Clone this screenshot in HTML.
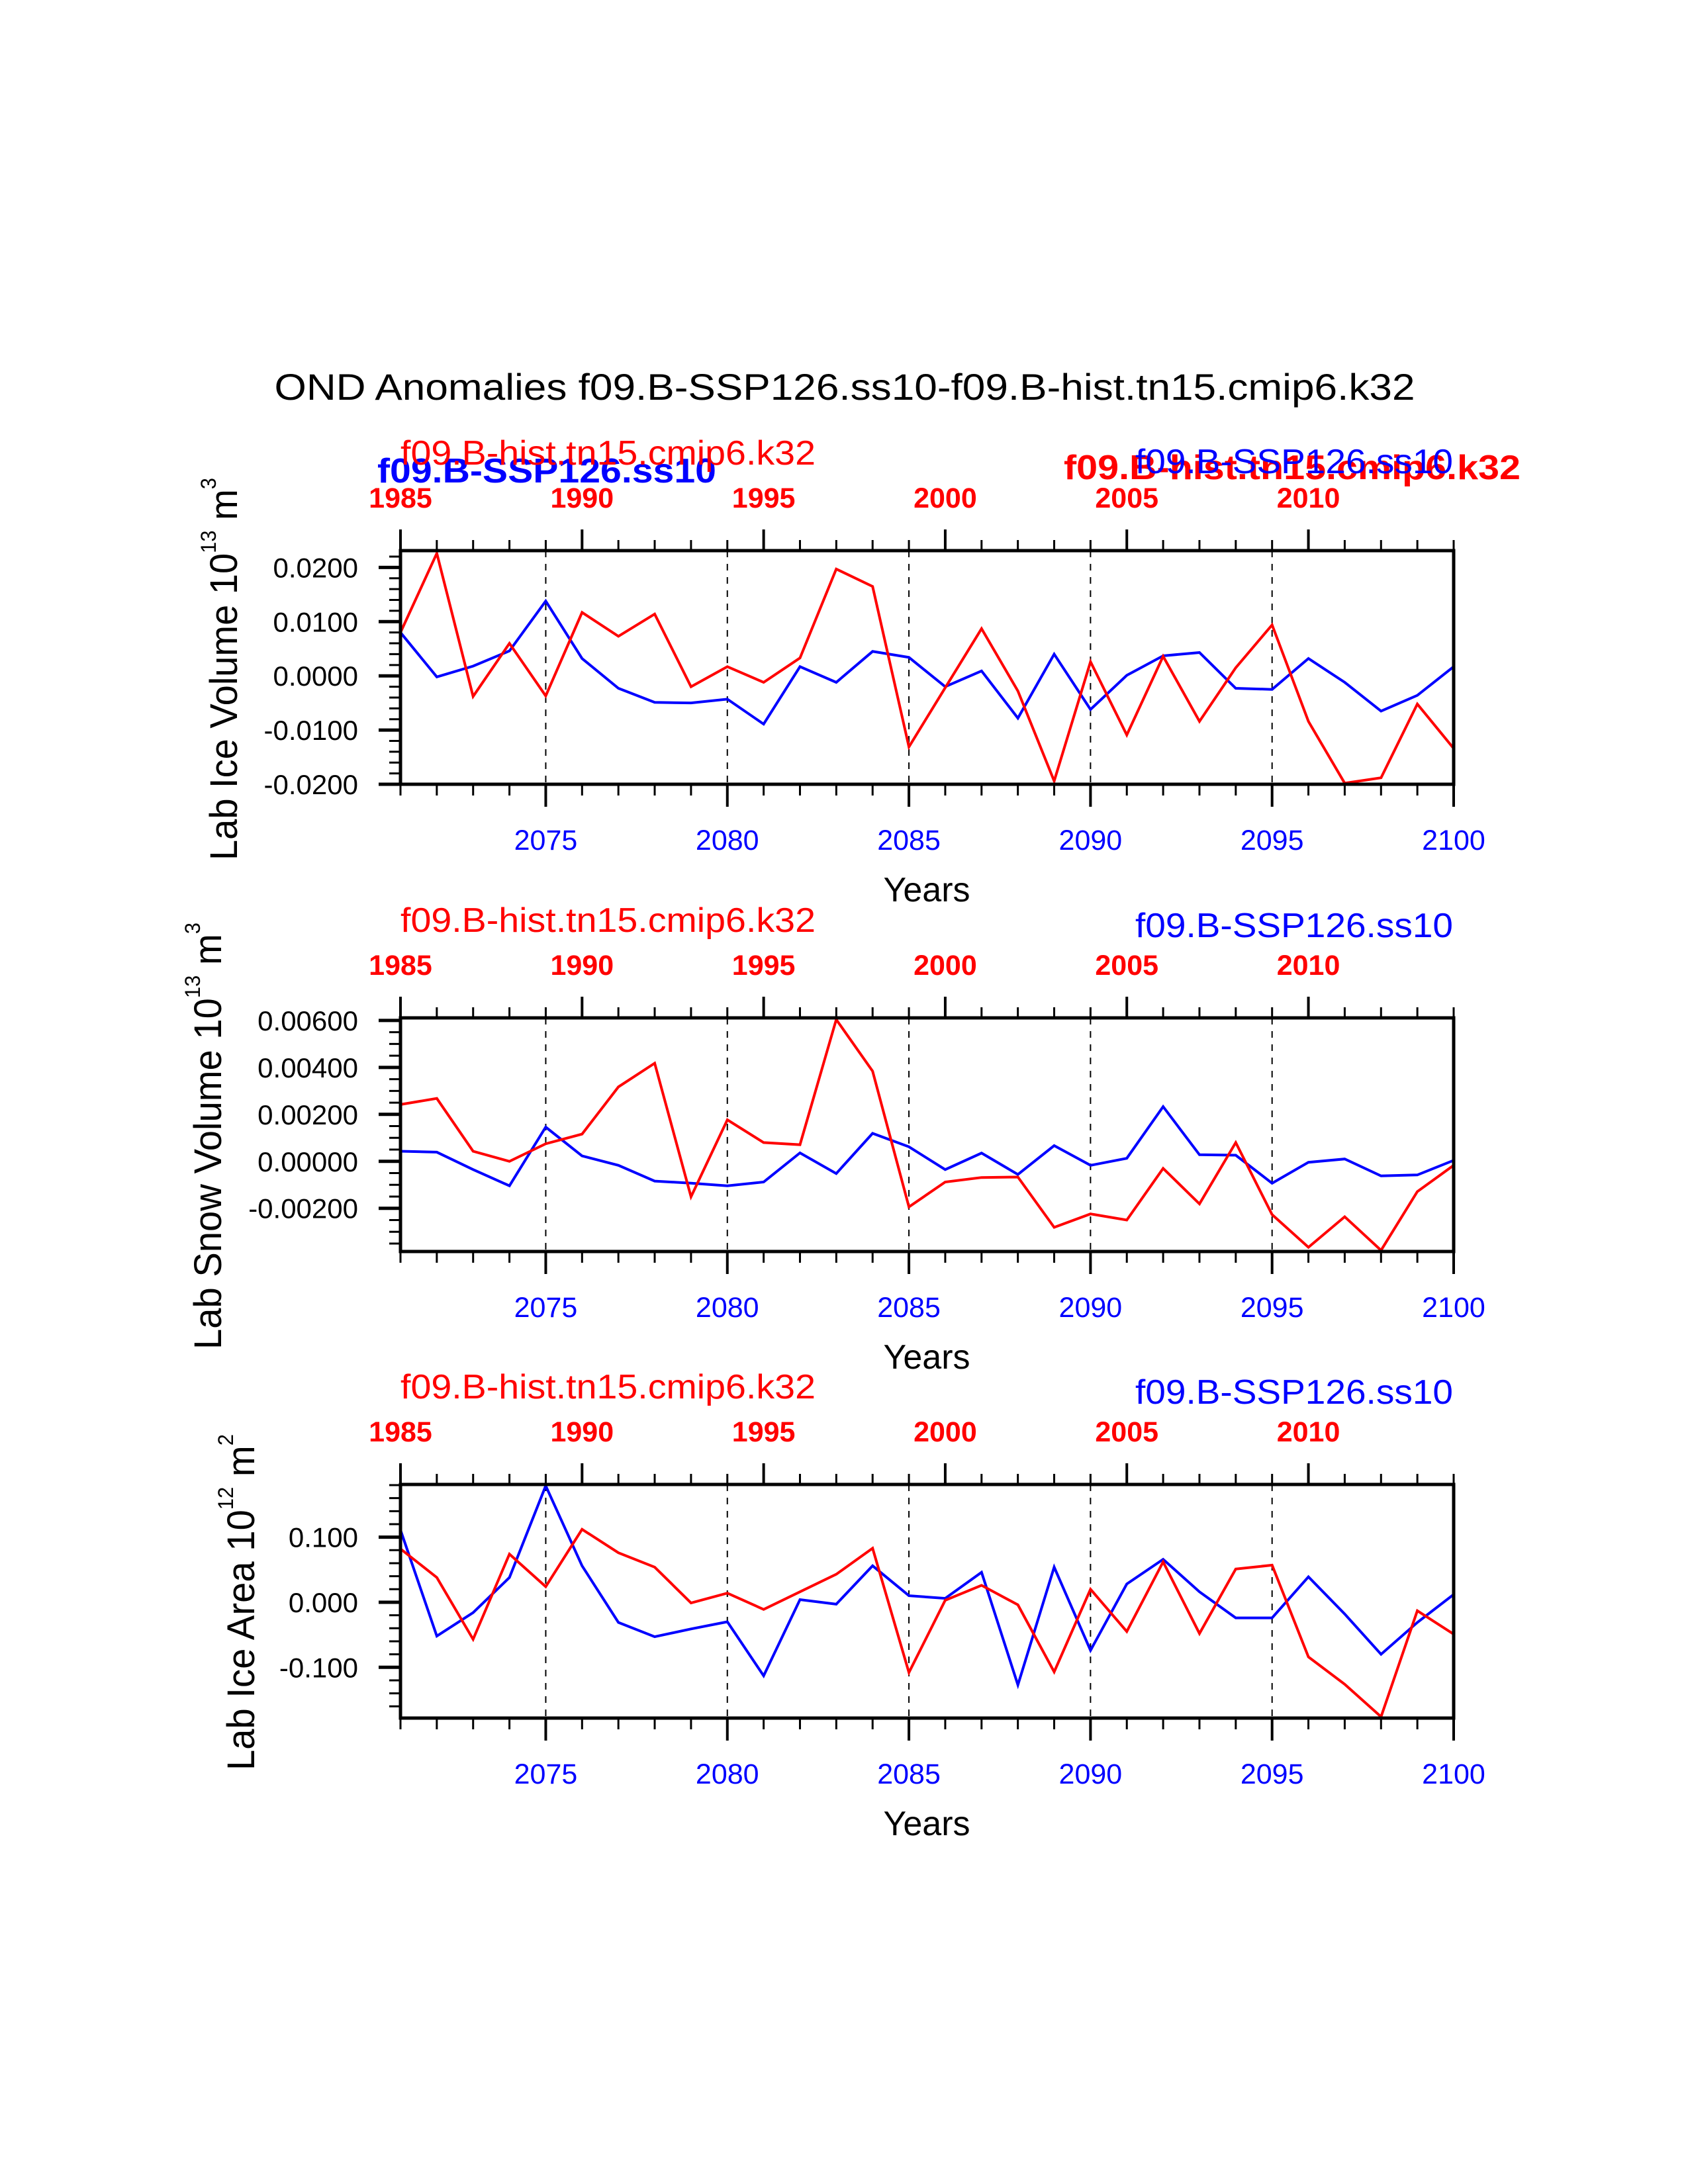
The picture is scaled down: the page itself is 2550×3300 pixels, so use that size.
<!DOCTYPE html>
<html><head><meta charset="utf-8"><style>html,body{margin:0;padding:0;background:#fff}svg{display:block}</style></head>
<body>
<svg id="chart" xmlns="http://www.w3.org/2000/svg" width="2550" height="3300" viewBox="0 0 2550 3300" font-family="Liberation Sans, sans-serif">
<rect width="2550" height="3300" fill="#fff"/>
<text x="1276" y="604" font-size="56" text-anchor="middle" textLength="1723" lengthAdjust="spacingAndGlyphs">OND Anomalies f09.B-SSP126.ss10-f09.B-hist.tn15.cmip6.k32</text>
<text x="1607" y="724" font-size="52" font-weight="bold" fill="#f00" textLength="690" lengthAdjust="spacingAndGlyphs">f09.B-hist.tn15.cmip6.k32</text>
<text x="570" y="729" font-size="52" font-weight="bold" fill="#00f" textLength="512" lengthAdjust="spacingAndGlyphs">f09.B-SSP126.ss10</text>
<g id="plots"></g>
</svg>
<script>
const years = [];
for (let y = 2071; y <= 2100; y++) years.push(y);
const topYearLabels = ['1985','1990','1995','2000','2005','2010'];
const bottomYearLabels = ['2075','2080','2085','2090','2095','2100'];

const iceVolSSP = [0.0080,-0.0002,0.0018,0.0046,0.0138,0.0032,-0.0023,-0.0049,-0.0050,-0.0043,-0.0089,0.0017,-0.0012,0.0045,0.0034,-0.0020,0.0009,-0.0078,0.0040,-0.0062,0.0001,0.0037,0.0043,-0.0023,-0.0025,0.0032,-0.0012,-0.0065,-0.0036,0.0017];
const iceVolHist = [0.0080,0.0226,-0.0038,0.0060,-0.0037,0.0117,0.0073,0.0114,-0.0020,0.0017,-0.0012,0.0033,0.0197,0.0165,-0.0131,-0.0022,0.0087,-0.0028,-0.0194,0.0026,-0.0109,0.0036,-0.0084,0.0015,0.0094,-0.0084,-0.0198,-0.0188,-0.0052,-0.0134];
const snowVolSSP = [0.00043,0.00039,-0.00035,-0.00104,0.00146,0.00023,-0.00017,-0.00084,-0.00093,-0.00104,-0.00088,0.00036,-0.00052,0.00119,0.00062,-0.00035,0.00035,-0.00056,0.00067,-0.00017,0.00013,0.00233,0.00028,0.00026,-0.00093,-0.00004,0.0001,-0.00062,-0.00058,0.00004];
const snowVolHist = [0.00242,0.00268,0.00043,0.0,0.00075,0.00116,0.00317,0.00418,-0.00151,0.00177,0.0008,0.00071,0.00604,0.00384,-0.00194,-0.00088,-0.00069,-0.00067,-0.00281,-0.00224,-0.0025,-0.0003,-0.00181,0.0008,-0.00227,-0.00366,-0.00236,-0.00379,-0.00129,-0.00017];
const iceAreaSSP = [0.111,-0.052,-0.016,0.038,0.179,0.056,-0.031,-0.053,-0.041,-0.030,-0.113,0.004,-0.003,0.056,0.010,0.006,0.046,-0.127,0.054,-0.074,0.028,0.066,0.016,-0.024,-0.024,0.039,-0.018,-0.080,-0.031,0.012];
const iceAreaHist = [0.082,0.038,-0.057,0.074,0.024,0.112,0.076,0.054,-0.001,0.014,-0.011,0.016,0.043,0.083,-0.108,0.003,0.026,-0.004,-0.107,0.020,-0.045,0.062,-0.048,0.051,0.057,-0.084,-0.126,-0.176,-0.013,-0.049];

const iceVolTicks = [-0.02,-0.01,0,0.01,0.02];
const iceVolTickLabels = ['-0.0200','-0.0100','0.0000','0.0100','0.0200'];
const snowTicks = [-0.002,0,0.002,0.004,0.006];
const snowTickLabels = ['-0.00200','0.00000','0.00200','0.00400','0.00600'];
const areaTicks = [-0.1,0,0.1];
const areaTickLabels = ['-0.100','0.000','0.100'];

const NS = 'http://www.w3.org/2000/svg';
const root = document.getElementById('plots');
function mk(tag, attrs, parent) {
  const e = document.createElementNS(NS, tag);
  for (const k in attrs) e.setAttribute(k, attrs[k]);
  (parent || root).appendChild(e);
  return e;
}

const X0 = 605, X1 = 2196, H = 353;
function xScale(yr) { return X0 + (yr - 2071) * (X1 - X0) / 29; }

const panels = [
  {key:'ice-volume', top:832, ymin:-0.02, ymax:0.0231, ssp:iceVolSSP, hist:iceVolHist, ticks:iceVolTicks, labels:iceVolTickLabels, minor:0.002,
   title:['Lab Ice Volume 10','13',' m','3'], tx:358, ty0:1300, tlen:578, overlap:true},
  {key:'snow-volume', top:1538, ymin:-0.00384, ymax:0.00611, ssp:snowVolSSP, hist:snowVolHist, ticks:snowTicks, labels:snowTickLabels, minor:0.0005,
   title:['Lab Snow Volume 10','13',' m','3'], tx:334, ty0:2039, tlen:645, overlap:false},
  {key:'ice-area', top:2243, ymin:-0.178, ymax:0.181, ssp:iceAreaSSP, hist:iceAreaHist, ticks:areaTicks, labels:areaTickLabels, minor:0.02,
   title:['Lab Ice Area 10','12',' m','2'], tx:384, ty0:2675, tlen:508, overlap:false}
];

panels.forEach((p) => {
  const g = mk('g', {});
  
  
  const T = p.top, B = p.top + H;
  const yScale = v => B - (v - p.ymin) / (p.ymax - p.ymin) * H;

  // dashed verticals
  [2075,2080,2085,2090,2095].forEach(yr => {
    const l = mk('line', {x1:xScale(yr), x2:xScale(yr), y1:T, y2:B, stroke:'#000', 'stroke-width':2, 'stroke-dasharray':'10,10'}, g);
    
    
  });

  // series
  [[p.ssp,'#00f','ssp126-line'],[p.hist,'#f00','hist-line']].forEach(([arr,col,nm]) => {
    const d = arr.map((v,i) => (i?'L':'M') + xScale(years[i]).toFixed(1) + ',' + yScale(v).toFixed(1)).join(' ');
    const path = mk('path', {d:d, fill:'none', stroke:col, 'stroke-width':4, 'stroke-linejoin':'miter'}, g);
    
    
  });

  // box
  const box = mk('rect', {x:X0, y:T, width:X1-X0, height:H, fill:'none', stroke:'#000', 'stroke-width':5}, g);
  
  

  // x ticks
  years.forEach((yr,i) => {
    const x = xScale(yr);
    const topMajor = (i % 5 === 0);
    mk('line', {x1:x, x2:x, y1:T, y2:T - (topMajor?32:16), stroke:'#000', 'stroke-width':topMajor?4:3}, g);
    const botMajor = (yr % 5 === 0);
    mk('line', {x1:x, x2:x, y1:B, y2:B + (botMajor?34:17), stroke:'#000', 'stroke-width':botMajor?4:3}, g);
  });
  topYearLabels.forEach((lab,i) => {
    const t = mk('text', {x:xScale(2071 + i*5), y:T - 65, 'font-size':43, 'font-weight':'bold', fill:'#f00', 'text-anchor':'middle'}, g);
    
    
    t.textContent = lab;
  });
  bottomYearLabels.forEach((lab,i) => {
    const t = mk('text', {x:xScale(2075 + i*5), y:B + 99, 'font-size':43, fill:'#00f', 'text-anchor':'middle'}, g);
    
    
    t.textContent = lab;
  });
  const xt = mk('text', {x:1400, y:B + 177, 'font-size':52, 'text-anchor':'middle'}, g);
  
  
  xt.textContent = 'Years';

  // y ticks
  const n0 = Math.ceil(p.ymin / p.minor - 1e-6), n1 = Math.floor(p.ymax / p.minor + 1e-6);
  for (let n = n0; n <= n1; n++) {
    const v = n * p.minor;
    const isMajor = p.ticks.some(t => Math.abs(t - v) < p.minor * 0.01);
    const y = yScale(v);
    mk('line', {x1:X0, x2:X0 - (isMajor?33:17), y1:y, y2:y, stroke:'#000', 'stroke-width':isMajor?5:3}, g);
  }
  p.ticks.forEach((v,i) => {
    const t = mk('text', {x:541, y:yScale(v) + 15, 'font-size':42, 'text-anchor':'end'}, g);
    
    
    t.textContent = p.labels[i];
  });

  // y title
  const yt = mk('text', {x:0, y:0, 'font-size':58, transform:'translate(' + p.tx + ',' + p.ty0 + ') rotate(-90)', textLength:p.tlen, lengthAdjust:'spacingAndGlyphs'}, g);
  
  
  const s1 = mk('tspan', {}, yt); s1.textContent = p.title[0];
  const s2 = mk('tspan', {'font-size':32, dy:-32}, yt); s2.textContent = p.title[1];
  const s3 = mk('tspan', {dy:32}, yt); s3.textContent = p.title[2];
  const s4 = mk('tspan', {'font-size':32, dy:-32}, yt); s4.textContent = p.title[3];

  // subtitles
  const rs = mk('text', {x:605, y:T - 130, 'font-size':52, fill:'#f00', textLength:627, lengthAdjust:'spacingAndGlyphs'}, g);
  
  
  rs.textContent = 'f09.B-hist.tn15.cmip6.k32';
  const bs = mk('text', {x:1715, y:T - (p.overlap?117:122), 'font-size':52, fill:'#00f', textLength:480, lengthAdjust:'spacingAndGlyphs'}, g);
  
  
  bs.textContent = 'f09.B-SSP126.ss10';
});
</script>
</body></html>
